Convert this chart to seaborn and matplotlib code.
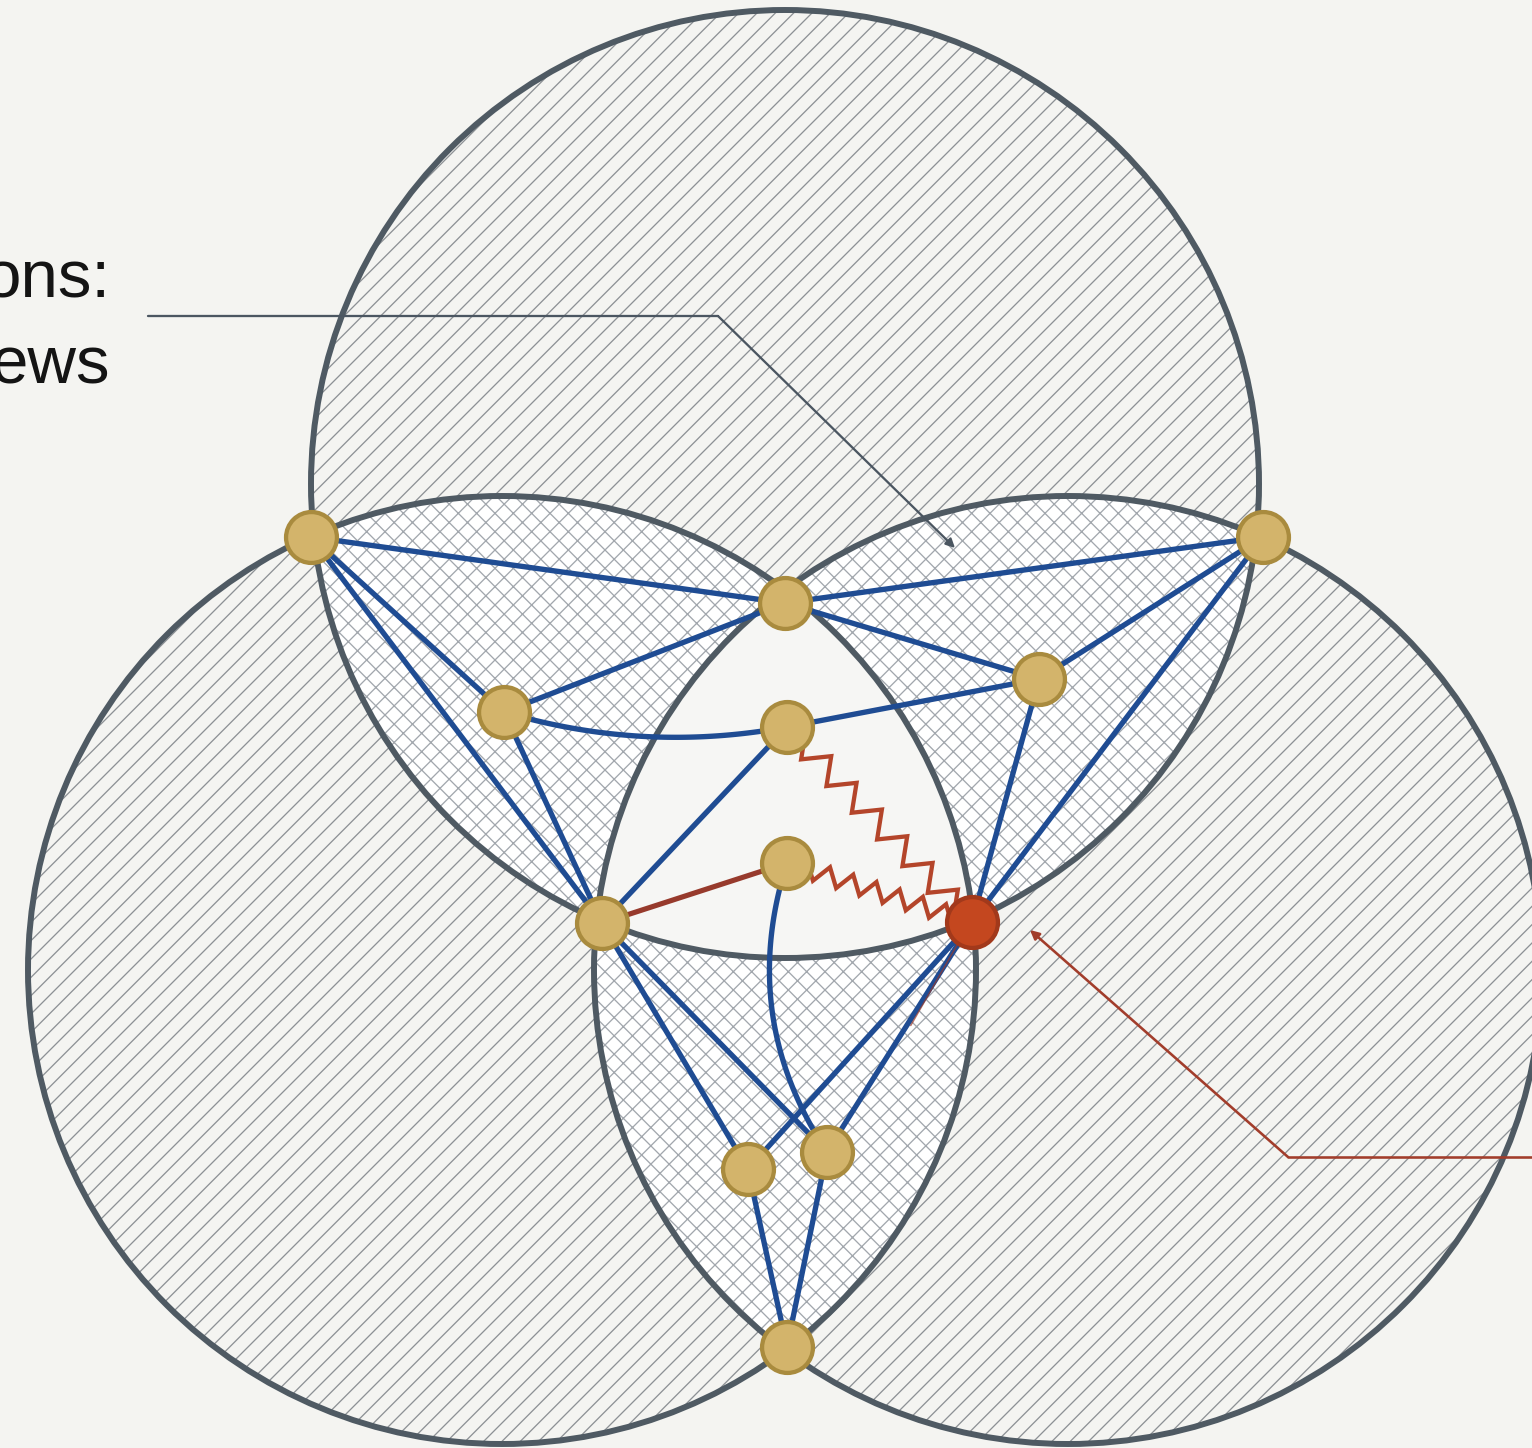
import numpy as np
import matplotlib
matplotlib.use("Agg")
import matplotlib.pyplot as plt
import seaborn as sns
from matplotlib.patches import Circle, Polygon

# three overlapping sets (pixel-like coordinates, y grows downward)
circle_x = [785, 502, 1068]
circle_y = [484, 970, 970]
circle_r = [474, 474, 474]

# graph nodes
node_names = ["A", "B", "C", "D", "E", "F", "G", "H", "R", "I", "J", "K"]
node_x = [311, 1263, 785, 504, 1039, 787, 787, 602, 972, 748, 827, 787]
node_y = [537, 537, 603, 712, 679, 727, 863, 923, 922, 1169, 1152, 1347]
hot_nodes = ["R"]

# edges
blue_edges = [("A", "C"), ("A", "D"), ("A", "H"), ("D", "C"), ("D", "H"),
              ("C", "B"), ("C", "E"), ("E", "B"), ("F", "E"), ("F", "H"),
              ("E", "R"), ("B", "R"), ("H", "I"), ("H", "J"), ("R", "I"),
              ("R", "J"), ("I", "K"), ("J", "K")]
curved_edges = [("D", "F", 0.12), ("G", "J", 0.24)]
red_edges = [("H", "G")]
zigzag_edges = [("F", "R", 6, 12), ("G", "R", 6, 9)]

# callouts
note_top_x = [148, 718, 955]
note_top_y = [316, 316, 548]
note_red_x = [1532, 1288, 1030]
note_red_y = [1157, 1157, 930]
label_lines = ["ons:", "ews"]
label_y = [297, 383]

bg = "#f4f4f1"
hatch_gray = "#8d9195"
outline = "#4f5a63"
blue = "#1f4c93"
red_line = "#973a2c"
zig_red = "#b4452a"

sns.set_style("white")
plt.rcParams["font.family"] = ["Liberation Sans", "DejaVu Sans"]
plt.rcParams["hatch.linewidth"] = 0.85

dpi = 110
fig = plt.figure(figsize=(1532 / dpi, 1448 / dpi), dpi=dpi, facecolor=bg)
ax = fig.add_axes([0, 0, 1, 1])
ax.set_facecolor(bg)

pos = {n: np.array([x, y], float) for n, x, y in zip(node_names, node_x, node_y)}


def circle_pts(i, n=2000):
    t = np.linspace(0, 2 * np.pi, n, endpoint=False)
    return np.c_[circle_x[i] + circle_r[i] * np.cos(t), circle_y[i] + circle_r[i] * np.sin(t)]


def region(ids):
    pts = []
    for i in ids:
        p = circle_pts(i)
        mask = np.ones(len(p), bool)
        for j in ids:
            if j != i:
                mask &= (p[:, 0] - circle_x[j]) ** 2 + (p[:, 1] - circle_y[j]) ** 2 <= circle_r[j] ** 2
        pts.append(p[mask])
    pts = np.vstack(pts)
    c = pts.mean(axis=0)
    return pts[np.argsort(np.arctan2(pts[:, 1] - c[1], pts[:, 0] - c[0]))]


# single coverage: diagonal hatch
for x, y, r in zip(circle_x, circle_y, circle_r):
    ax.add_patch(Circle((x, y), r, facecolor=bg, edgecolor=hatch_gray, lw=0, hatch="//", zorder=1))

# pairwise overlaps: cross hatch
for pair in [(0, 1), (0, 2), (1, 2)]:
    ax.add_patch(Polygon(region(pair), closed=True, facecolor="#ffffff",
                         edgecolor="#a2a7ad", lw=0, hatch="xx", zorder=2))

# triple overlap: plain
ax.add_patch(Polygon(region((0, 1, 2)), closed=True, facecolor="#f6f6f4", lw=0, zorder=3))

for x, y, r in zip(circle_x, circle_y, circle_r):
    ax.add_patch(Circle((x, y), r, fill=False, edgecolor=outline, lw=3.9, zorder=4))

# edges
for a, b in blue_edges:
    ax.plot([pos[a][0], pos[b][0]], [pos[a][1], pos[b][1]], color=blue, lw=3.5,
            solid_capstyle="round", zorder=6)

for a, b, bend in curved_edges:
    p0, p1 = pos[a], pos[b]
    d = p1 - p0
    nrm = np.array([-d[1], d[0]])
    ctrl = (p0 + p1) / 2 + nrm * bend
    t = np.linspace(0, 1, 80)[:, None]
    curve = (1 - t) ** 2 * p0 + 2 * (1 - t) * t * ctrl + t ** 2 * p1
    ax.plot(curve[:, 0], curve[:, 1], color=blue, lw=3.5, zorder=6)

for a, b in red_edges:
    ax.plot([pos[a][0], pos[b][0]], [pos[a][1], pos[b][1]], color=red_line, lw=3.4, zorder=6)

for a, b, teeth, amp in zigzag_edges:
    p0, p1 = pos[a], pos[b]
    d = p1 - p0
    L = np.hypot(*d)
    u = d / L
    nrm = np.array([-u[1], u[0]])
    lead = 24
    step = (L - 2 * lead) / (2 * teeth)
    pts = [p0, p0 + u * lead]
    for k in range(2 * teeth):
        pts.append(p0 + u * (lead + (k + 0.5) * step) + nrm * amp * (-1) ** k)
    pts += [p1 - u * lead, p1]
    pts = np.array(pts)
    ax.plot(pts[:, 0], pts[:, 1], color=zig_red, lw=2.8, solid_joinstyle="miter", zorder=6)

# faint red trace beside R-J
pr, pj = pos["R"], pos["J"]
ax.plot([pr[0] - 4, pr[0] + (pj[0] - pr[0]) * 0.45 + 4], [pr[1] + 4, pr[1] + (pj[1] - pr[1]) * 0.45],
        color=red_line, lw=1.0, alpha=0.7, zorder=6)

# nodes
base = [n for n in node_names if n not in hot_nodes]
sns.scatterplot(x=[pos[n][0] for n in base], y=[pos[n][1] for n in base], s=1110,
                color="#d3b46b", edgecolor="#a98b3e", linewidth=2.8, ax=ax, zorder=8)
sns.scatterplot(x=[pos[n][0] for n in hot_nodes], y=[pos[n][1] for n in hot_nodes], s=1110,
                color="#c4471f", edgecolor="#a2391b", linewidth=2.8, ax=ax, zorder=8)

# callout lines
ax.plot(note_top_x[:2], note_top_y[:2], color="#4b5661", lw=1.5, zorder=7)
ax.annotate("", xy=(note_top_x[2], note_top_y[2]), xytext=(note_top_x[1], note_top_y[1]),
            arrowprops=dict(arrowstyle="-|>", color="#4b5661", lw=1.5, mutation_scale=12,
                            shrinkA=0, shrinkB=0), zorder=7)
ax.plot(note_red_x[:2], note_red_y[:2], color="#a23d2b", lw=1.7, zorder=7)
ax.annotate("", xy=(note_red_x[2], note_red_y[2]), xytext=(note_red_x[1], note_red_y[1]),
            arrowprops=dict(arrowstyle="-|>", color="#a23d2b", lw=1.7, mutation_scale=12,
                            shrinkA=0, shrinkB=0), zorder=7)

for txt, y in zip(label_lines, label_y):
    ax.text(110, y, txt, ha="right", va="baseline", fontsize=44, color="#141414", zorder=9)

ax.set_xlim(0, 1532)
ax.set_ylim(1448, 0)
ax.set_axis_off()
fig.savefig("out.png", dpi=dpi, facecolor=bg)
